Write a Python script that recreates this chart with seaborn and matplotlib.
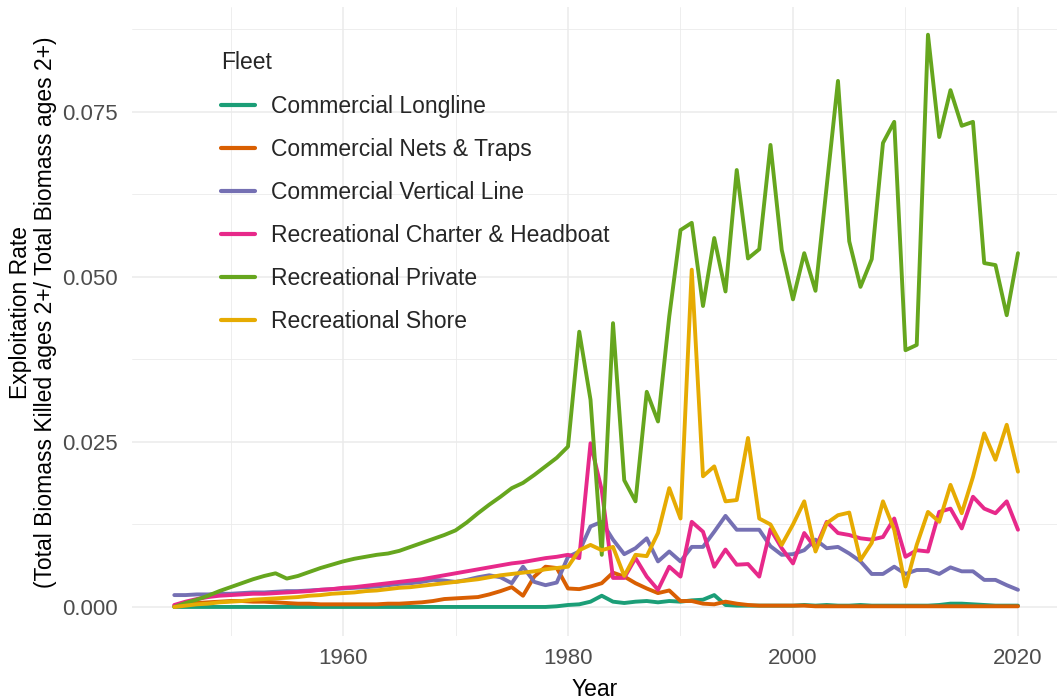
import pandas as pd
import matplotlib
matplotlib.use("Agg")
import matplotlib.pyplot as plt
import matplotlib.ticker as mticker
import seaborn as sns

years = list(range(1945, 2021))

fleets = ["Commercial Longline", "Commercial Nets & Traps", "Commercial Vertical Line",
          "Recreational Charter & Headboat", "Recreational Private", "Recreational Shore"]

longline = [0.0] * 34 + [
    0.0001, 0.0003, 0.0004, 0.0008, 0.0017, 0.0008, 0.0006, 0.0008, 0.0009, 0.0007,
    0.0009, 0.0008, 0.0010, 0.0011, 0.0018, 0.0003, 0.0002, 0.0002, 0.0002, 0.0002,
    0.0002, 0.0002, 0.0003, 0.0002, 0.0003, 0.0002, 0.0002, 0.0003, 0.0002, 0.0002,
    0.0002, 0.0002, 0.0002, 0.0002, 0.0003, 0.0005, 0.0005, 0.0004, 0.0003, 0.0002,
    0.0002, 0.0002]

nets_traps = [
    0.0002, 0.0004, 0.0006, 0.0007, 0.0008, 0.0009, 0.0009, 0.0008, 0.0008, 0.0007,
    0.0006, 0.0005, 0.0005, 0.0004, 0.0004, 0.0004, 0.0004, 0.0004, 0.0004, 0.0005,
    0.0005, 0.0006, 0.0007, 0.0009, 0.0012, 0.0013, 0.0014, 0.0015, 0.0019, 0.0024,
    0.0030, 0.0017, 0.0046, 0.0061, 0.0059, 0.0028, 0.0027, 0.0031, 0.0036, 0.0052,
    0.0046, 0.0036, 0.0028, 0.0021, 0.0025, 0.0009, 0.0009, 0.0005, 0.0004, 0.0008,
    0.0005, 0.0003, 0.0002, 0.0002, 0.0002, 0.0002, 0.0002, 0.0001, 0.0001, 0.0001,
    0.0001, 0.0001, 0.0001, 0.0001, 0.0001, 0.0001, 0.0001, 0.0001, 0.0001, 0.0001,
    0.0001, 0.0001, 0.0001, 0.0001, 0.0001, 0.0001]

vertical_line = [
    0.0018, 0.0018, 0.0019, 0.0019, 0.0020, 0.0020, 0.0021, 0.0022, 0.0022, 0.0023,
    0.0024, 0.0024, 0.0025, 0.0026, 0.0027, 0.0028, 0.0029, 0.0030, 0.0031, 0.0033,
    0.0035, 0.0036, 0.0038, 0.0041, 0.0040, 0.0038, 0.0041, 0.0045, 0.0048, 0.0045,
    0.0036, 0.0061, 0.0038, 0.0033, 0.0037, 0.0076, 0.0084, 0.0122, 0.0129, 0.0102,
    0.0080, 0.0089, 0.0104, 0.0069, 0.0084, 0.0069, 0.0091, 0.0091, 0.0114, 0.0138,
    0.0117, 0.0117, 0.0117, 0.0092, 0.0079, 0.0080, 0.0086, 0.0102, 0.0089, 0.0091,
    0.0081, 0.0069, 0.0050, 0.0050, 0.0061, 0.0050, 0.0056, 0.0056, 0.0050, 0.0060,
    0.0054, 0.0054, 0.0041, 0.0041, 0.0033, 0.0026]

charter = [
    0.0003, 0.0008, 0.0012, 0.0015, 0.0017, 0.0018, 0.0019, 0.0020, 0.0020, 0.0021,
    0.0022, 0.0023, 0.0024, 0.0026, 0.0027, 0.0029, 0.0030, 0.0032, 0.0034, 0.0036,
    0.0038, 0.0040, 0.0042, 0.0045, 0.0048, 0.0051, 0.0054, 0.0057, 0.0060, 0.0063,
    0.0066, 0.0068, 0.0071, 0.0074, 0.0076, 0.0079, 0.0074, 0.0248, 0.0177, 0.0044,
    0.0044, 0.0074, 0.0046, 0.0026, 0.0061, 0.0046, 0.0129, 0.0114, 0.0061, 0.0087,
    0.0064, 0.0065, 0.0046, 0.0118, 0.0089, 0.0066, 0.0112, 0.0089, 0.0129, 0.0112,
    0.0109, 0.0104, 0.0102, 0.0106, 0.0134, 0.0076, 0.0086, 0.0084, 0.0144, 0.0149,
    0.0119, 0.0167, 0.0149, 0.0142, 0.0160, 0.0117]

private = [
    0.0000, 0.0006, 0.0011, 0.0017, 0.0024, 0.0030, 0.0036, 0.0042, 0.0047, 0.0051,
    0.0043, 0.0047, 0.0053, 0.0059, 0.0064, 0.0069, 0.0073, 0.0076, 0.0079, 0.0081,
    0.0085, 0.0091, 0.0097, 0.0103, 0.0109, 0.0116, 0.0128, 0.0142, 0.0155, 0.0167,
    0.0180, 0.0188, 0.0200, 0.0213, 0.0226, 0.0243, 0.0417, 0.0314, 0.0079, 0.0430,
    0.0192, 0.0160, 0.0326, 0.0281, 0.0440, 0.0571, 0.0582, 0.0456, 0.0559, 0.0478,
    0.0662, 0.0528, 0.0542, 0.0700, 0.0541, 0.0466, 0.0536, 0.0479, 0.0638, 0.0797,
    0.0554, 0.0485, 0.0527, 0.0703, 0.0735, 0.0389, 0.0397, 0.0867, 0.0712, 0.0783,
    0.0729, 0.0735, 0.0521, 0.0518, 0.0442, 0.0536]

shore = [
    0.0000, 0.0002, 0.0004, 0.0005, 0.0007, 0.0008, 0.0009, 0.0011, 0.0012, 0.0013,
    0.0014, 0.0015, 0.0017, 0.0018, 0.0020, 0.0021, 0.0022, 0.0024, 0.0025, 0.0027,
    0.0029, 0.0030, 0.0032, 0.0034, 0.0036, 0.0038, 0.0040, 0.0042, 0.0045, 0.0048,
    0.0050, 0.0052, 0.0054, 0.0057, 0.0059, 0.0061, 0.0086, 0.0094, 0.0086, 0.0091,
    0.0047, 0.0079, 0.0077, 0.0112, 0.0180, 0.0134, 0.0511, 0.0198, 0.0213, 0.0160,
    0.0162, 0.0256, 0.0134, 0.0125, 0.0094, 0.0125, 0.0160, 0.0084, 0.0127, 0.0139,
    0.0143, 0.0071, 0.0097, 0.0160, 0.0117, 0.0031, 0.0094, 0.0144, 0.0129, 0.0185,
    0.0142, 0.0197, 0.0263, 0.0223, 0.0276, 0.0205]

colors = ["#1B9E77", "#D95F02", "#7570B3", "#E7298A", "#66A61E", "#E6AB02"]

series = [longline, nets_traps, vertical_line, charter, private, shore]
rows = []
for name, vals in zip(fleets, series):
    for yr, v in zip(years, vals):
        rows.append({"Year": yr, "Rate": v, "Fleet": name})
df = pd.DataFrame(rows)

sns.set_theme(style="white")
plt.rcParams["font.family"] = ["Liberation Sans", "DejaVu Sans"]

fig = plt.figure(figsize=(10.57, 7.0), dpi=100)
ax = fig.add_axes([132 / 1057, (700 - 636) / 700, (1057 - 132) / 1057, (636 - 7) / 700])

sns.lineplot(data=df, x="Year", y="Rate", hue="Fleet", hue_order=fleets,
             palette=dict(zip(fleets, colors)), linewidth=2.8, ax=ax)

ax.set_xlim(1941.24, 2023.47)
ax.set_ylim(-0.0044, 0.0909)
ax.set_xticks([1960, 1980, 2000, 2020])
ax.set_xticks([1950, 1970, 1990, 2010], minor=True)
ax.set_yticks([0.0, 0.025, 0.05, 0.075])
ax.set_yticks([0.0125, 0.0375, 0.0625, 0.0875], minor=True)
ax.yaxis.set_major_formatter(mticker.StrMethodFormatter("{x:.3f}"))
ax.grid(which="major", color="#EBEBEB", linewidth=1.1)
ax.grid(which="minor", color="#EBEBEB", linewidth=0.6)
ax.set_axisbelow(True)
for s in ax.spines.values():
    s.set_visible(False)
ax.tick_params(axis="both", which="both", length=0, labelsize=16, labelcolor="#4D4D4D")
ax.tick_params(axis="x", pad=9)
ax.tick_params(axis="y", pad=10)

ax.set_xlabel("Year", fontsize=16.5, color="black", labelpad=6)
ax.set_ylabel("Exploitation Rate\n(Total Biomass Killed ages 2+/ Total Biomass ages 2+)",
              fontsize=16.5, color="black", linespacing=1.1)
ax.yaxis.set_label_coords(-0.081, 0.515)

handles, labels = ax.get_legend_handles_labels()
leg = ax.legend(handles, labels, title="Fleet", frameon=False, fontsize=16.5,
                title_fontsize=16.5, loc="upper left",
                bbox_to_anchor=(210 / 1057, 1 - 40 / 700), bbox_transform=fig.transFigure,
                handlelength=1.48, handletextpad=0.68, labelspacing=0.88, borderpad=0)
leg._legend_box.align = "left"
for line in leg.get_lines():
    line.set_linewidth(3.0)

fig.savefig("out.png", dpi=100)
